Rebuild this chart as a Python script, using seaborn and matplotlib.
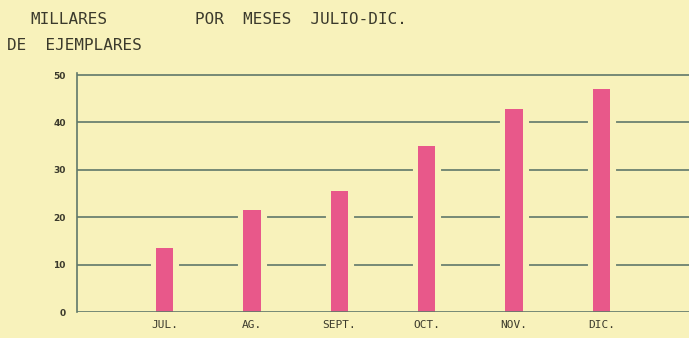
import matplotlib
matplotlib.use("Agg")
import matplotlib.pyplot as plt
import seaborn as sns
import pandas as pd

# Monthly copies printed, thousands
months = ["JUL.", "AG.", "SEPT.", "OCT.", "NOV.", "DIC."]
copies = [13.5, 21.5, 25.5, 35.0, 42.8, 47.0]
y_ticks = [0, 10, 20, 30, 40, 50]

paper = "#f8f2bb"
grid = "#60786a"
bar_color = "#e8588a"
ink = "#3b3a2c"

df = pd.DataFrame({"mes": months, "miles": copies})

sns.set_theme(style="white")
plt.rcParams["font.family"] = ["DejaVu Sans Mono", "DejaVu Sans"]

fig = plt.figure(figsize=(6.89, 3.38), dpi=100, facecolor=paper)
ax = fig.add_axes([77 / 689, 1 - 312 / 338, 1 - 77 / 689, (312 - 75) / 338 * 50.4 / 50])
ax.set_facecolor(paper)

for v in y_ticks:
    ax.axhline(v, color=grid, lw=1.2, zorder=1 if v else 5)

sns.barplot(data=df, x="mes", y="miles", color=bar_color, width=0.2,
            saturation=1, ax=ax, zorder=3, linewidth=0)

# background-coloured halo behind each bar so grid lines break around it
for p in ax.patches:
    halo = plt.Rectangle((p.get_x(), 0), p.get_width(), p.get_height(),
                         facecolor=paper, edgecolor=paper, linewidth=8, zorder=2)
    ax.add_patch(halo)

ax.set_xlim(-1.0, 6.0)
ax.set_ylim(0, 50.4)
ax.set_yticks(y_ticks)
ax.set_yticklabels([str(t) for t in y_ticks], fontsize=6.5, fontweight="bold",
                   color=ink, family="DejaVu Sans")
ax.set_xticks(range(len(months)))
ax.set_xticklabels(months, fontsize=8, color=ink)
ax.tick_params(axis="both", length=0)
ax.tick_params(axis="y", pad=8)
ax.tick_params(axis="x", pad=6)
ax.set_xlabel("")
ax.set_ylabel("")

for side in ["top", "right", "bottom"]:
    ax.spines[side].set_visible(False)
ax.spines["left"].set_color(grid)
ax.spines["left"].set_linewidth(1.2)

fig.text(30 / 689, 1 - 19 / 338, "MILLARES", fontsize=11.5, color=ink,
         va="center", ha="left")
fig.text(7 / 689, 1 - 46 / 338, "DE  EJEMPLARES", fontsize=11.5, color=ink,
         va="center", ha="left")
fig.text(195 / 689, 1 - 19 / 338, "POR  MESES  JULIO-DIC.", fontsize=11.5, color=ink,
         va="center", ha="left")

fig.savefig("out.png", dpi=100, facecolor=paper)
